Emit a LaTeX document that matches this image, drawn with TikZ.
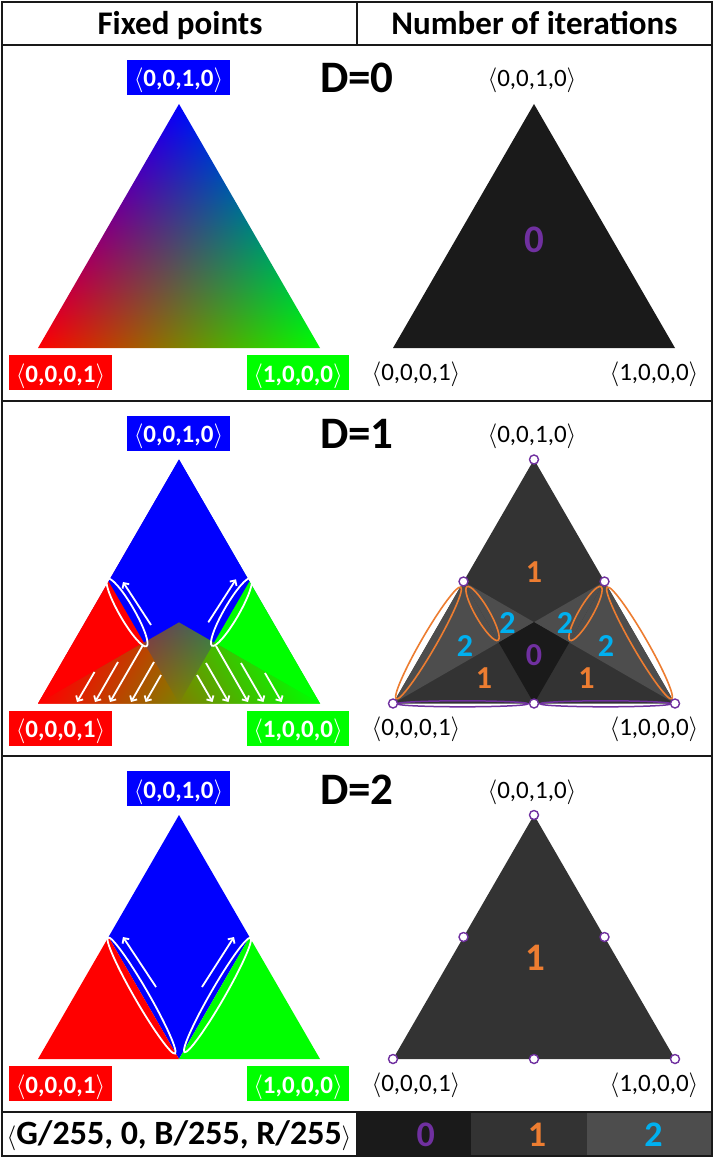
\documentclass[tikz,border=0pt]{standalone}
\usepackage{fontspec}
\setmainfont{Carlito}
\usetikzlibrary{arrows.meta}
\definecolor{pur}{RGB}{112,48,160}
\definecolor{org}{RGB}{237,125,49}
\definecolor{cyn}{RGB}{0,176,240}
\definecolor{gz}{RGB}{26,26,26}
\definecolor{go}{RGB}{51,51,51}
\definecolor{gt}{RGB}{77,77,77}
\definecolor{pblue}{RGB}{0,0,255}
\definecolor{pred}{RGB}{255,0,0}
\definecolor{pgreen}{RGB}{0,255,0}
\definecolor{frm}{RGB}{25,25,25}
\pgfdeclarefunctionalshading{bary}{\pgfpoint{0bp}{0bp}}{\pgfpoint{100bp}{100bp}}{}{%
25 sub 50 div exch 25 sub 50 div exch 2 copy 2 div sub dup 2 index add 1 exch sub 4 1 roll exch 3 -1 roll pop}
\pgfdeclarefunctionalshading{projL}{\pgfpoint{0bp}{0bp}}{\pgfpoint{100bp}{100bp}}{}{%
25 sub 50 div exch 25 sub 50 div exch 2 div sub dup 1 exch sub exch 0}
\pgfdeclarefunctionalshading{projR}{\pgfpoint{0bp}{0bp}}{\pgfpoint{100bp}{100bp}}{}{%
25 sub 50 div exch 25 sub 50 div exch 2 div add dup 1 exch sub exch 0}
\newcommand{\tupl}[1]{$\langle$#1$\rangle$}
\newcommand{\tricoords}{%
 \coordinate (A) at (179,104);
 \coordinate (L) at (38,348);
 \coordinate (R) at (320,348);
 \coordinate (ML) at (108.5,226);
 \coordinate (MR) at (249.5,226);
 \coordinate (MB) at (179,348);
 \coordinate (G) at (179,266.67);
 \coordinate (P1) at (143.75,287);
 \coordinate (P2) at (214.25,287);}
\newcommand{\panellabels}[1]{%
 \node[lbl, fill=pblue, minimum width=103pt] (top#1) at (178.5,77.5) {\tupl{0,0,1,0}};
 \node[lbl, fill=pred, minimum width=103pt] (lft#1) at (60.5,372.5) {\tupl{0,0,0,1}};
 \node[lbl, fill=pgreen, minimum width=102pt] (rgt#1) at (298,372.5) {\tupl{1,0,0,0}};
 \node[dlab, anchor=base] (dd#1) at (357,93) {D=#1};
 \node[ptxt, anchor=base] (itop#1) at (532,87) {\tupl{0,0,1,0}};
 \node[ptxt, anchor=base] (ilft#1) at (416,380) {\tupl{0,0,0,1}};
 \node[ptxt, anchor=base] (irgt#1) at (654,380) {\tupl{1,0,0,0}};}
\newcommand{\vmarks}[1]{%
 \foreach \p in {A,ML,MR,L,MB,R} {\node[vdot] (c#1\p) at (\p) {};}}
\begin{document}
\begin{tikzpicture}[x=1pt,y=-1pt,
 lbl/.style={text=white, font=\bfseries\fontsize{25}{30}\selectfont, inner sep=0pt, minimum height=35pt, text height=19pt, text depth=0pt},
 ptxt/.style={font=\fontsize{25}{30}\selectfont, inner sep=0pt},
 dlab/.style={font=\bfseries\fontsize{45}{50}\selectfont, inner sep=0pt},
 hdr/.style={font=\bfseries\fontsize{33}{40}\selectfont, inner sep=0pt},
 num/.style={font=\bfseries\fontsize{32}{36}\selectfont, inner sep=0pt, text height=20pt, text depth=0pt},
 bignum/.style={font=\bfseries\fontsize{39}{42}\selectfont, inner sep=0pt, text height=25pt, text depth=0pt},
 lnum/.style={font=\bfseries\fontsize{36}{40}\selectfont, inner sep=0pt, text height=23pt, text depth=0pt},
 wel/.style={draw=white, line width=1.8pt},
 oel/.style={draw=org, line width=1.6pt},
 pel/.style={draw=pur, line width=1.5pt},
 warr/.style={draw=white, line width=1.8pt, -{Straight Barb[length=4pt,width=8pt]}},
 vdot/.style={circle, draw=pur, fill=white, line width=1.4pt, minimum size=9pt, inner sep=0pt},
 frl/.style={draw=frm, line width=2pt}]
\useasboundingbox (0,0) rectangle (714,1158);
\fill[white] (0,0) rectangle (714,1158);
% header
\node[hdr, anchor=base] (h1) at (180,35) {Fixed points};
\node[hdr, anchor=base] (h2) at (534.5,35) {Number of iterations};
% labels of the three panels
\begin{scope}[shift={(0,0)}] \panellabels{0} \end{scope}
\begin{scope}[shift={(0,355.5)}] \panellabels{1} \end{scope}
\begin{scope}[shift={(0,711)}] \panellabels{2} \end{scope}
% ---------- D=0
\begin{scope}[shift={(0,0)}]
 \tricoords
 \shade[shading=bary] (A)--(L)--(R)--cycle;
\end{scope}
\begin{scope}[shift={(355,0)}]
 \tricoords
 \fill[gz] (A)--(L)--(R)--cycle;
 \node[bignum, text=pur] (n0) at (179,240) {0};
\end{scope}
% ---------- D=1
\begin{scope}[shift={(0,355.5)}]
 \tricoords
 \shade[shading=bary] (A)--(L)--(R)--cycle;
 \fill[pblue] (A)--(ML)--(P1)--(G)--(P2)--(MR)--cycle;
 \fill[pred] (L)--(ML)--(P1)--cycle;
 \fill[pgreen] (R)--(MR)--(P2)--cycle;
 \begin{scope} \clip (L)--(P1)--(MB)--cycle; \shade[shading=projL] (A)--(L)--(R)--cycle; \end{scope}
 \begin{scope} \clip (R)--(P2)--(MB)--cycle; \shade[shading=projR] (A)--(L)--(R)--cycle; \end{scope}
 \draw[wel, shift={(127,257)}, rotate=-60] (0,0) ellipse [x radius=39, y radius=7.5];
 \draw[wel, shift={(231.5,256.5)}, rotate=60] (0,0) ellipse [x radius=39, y radius=7.5];
 \coordinate (u1t) at (151,269.5); \coordinate (u1h) at (123,226.5);
 \coordinate (u2t) at (208.3,266.8); \coordinate (u2h) at (236,223.8);
 \draw[warr] (u1t) -- (u1h);
 \draw[warr] (u2t) -- (u2h);
 \foreach \i/\tx/\ty/\hx in {1/94.5/316.5/77, 2/118/306.5/95, 3/143/289.5/110, 4/154/306.5/131, 5/161/319.5/145.5,
   6/197/319.5/212.6, 7/206/307.5/228.5, 8/216/290.5/248, 9/241/307.5/263.5, 10/265/317.5/281.7}{
   \coordinate (bt\i) at (\tx,\ty); \coordinate (bh\i) at (\hx,346.5);
   \draw[warr] (bt\i) -- (bh\i);}
\end{scope}
\begin{scope}[shift={(355,355.5)}]
 \tricoords
 \fill[go] (A)--(L)--(R)--cycle;
 \fill[gt] (ML)--(G)--(P1)--cycle;
 \fill[gt] (L)--(ML)--(P1)--cycle;
 \fill[gt] (MR)--(G)--(P2)--cycle;
 \fill[gt] (R)--(MR)--(P2)--cycle;
 \fill[gz] (P1)--(G)--(P2)--(MB)--cycle;
 \draw[oel, shift={(73.5,287.5)}, rotate=60] (0,0) ellipse [x radius=64.5, y radius=7.5];
 \draw[oel, shift={(127.5,258)}, rotate=-60] (0,0) ellipse [x radius=31, y radius=7];
 \draw[oel, shift={(284.5,287.5)}, rotate=-60] (0,0) ellipse [x radius=64.5, y radius=7.5];
 \draw[oel, shift={(230.5,258)}, rotate=60] (0,0) ellipse [x radius=31, y radius=7];
 \draw[pel] (107.5,348.3) ellipse [x radius=65.5, y radius=3];
 \draw[pel] (250.5,348.3) ellipse [x radius=65.5, y radius=3];
 \vmarks{1}
 \node[num, text=org] (m1) at (179,216.5) {1};
 \node[num, text=cyn] (m2) at (152.5,267.5) {2};
 \node[num, text=cyn] (m3) at (110,290.5) {2};
 \node[num, text=org] (m4) at (129,323) {1};
 \node[num, text=pur] (m5) at (179,299.5) {0};
 \node[num, text=cyn] (m6) at (210,267.5) {2};
 \node[num, text=cyn] (m7) at (251,290.5) {2};
 \node[num, text=org] (m8) at (231.5,323) {1};
\end{scope}
% ---------- D=2
\begin{scope}[shift={(0,711)}]
 \tricoords
 \fill[pblue] (A)--(ML)--(MB)--(MR)--cycle;
 \fill[pred] (L)--(ML)--(MB)--cycle;
 \fill[pgreen] (R)--(MR)--(MB)--cycle;
 \draw[wel, shift={(141.5,284.5)}, rotate=-60] (0,0) ellipse [x radius=67, y radius=7];
 \draw[wel, shift={(217.5,284)}, rotate=60] (0,0) ellipse [x radius=66, y radius=7];
 \coordinate (v1t) at (156,276); \coordinate (v1h) at (123,226);
 \coordinate (v2t) at (202,276); \coordinate (v2h) at (234,226);
 \draw[warr] (v1t) -- (v1h);
 \draw[warr] (v2t) -- (v2h);
\end{scope}
\begin{scope}[shift={(355,711)}]
 \tricoords
 \fill[go] (A)--(L)--(R)--cycle;
 \vmarks{2}
 \node[bignum, text=org] (n2) at (180,247.3) {1};
\end{scope}
% ---------- legend
\fill[gz] (356.5,1112) rectangle (471,1156);
\fill[go] (471,1112) rectangle (587,1156);
\fill[gt] (587,1112) rectangle (712,1156);
\node[hdr, font=\bfseries\fontsize{34}{40}\selectfont, anchor=base] (leg) at (179,1144) {\tupl{G/255, 0, B/255, R/255}};
\node[lnum, text=pur] (l0) at (425.8,1134.5) {0};
\node[lnum, text=org] (l1) at (537,1134.5) {1};
\node[lnum, text=cyn] (l2) at (653.5,1134.5) {2};
% ---------- frame
\draw[frl] (2,2) rectangle (712,1156);
\draw[frl] (2,45) -- (712,45);
\draw[frl] (357,2) -- (357,45);
\draw[frl] (2,400.5) -- (712,400.5);
\draw[frl] (2,756) -- (712,756);
\draw[frl] (2,1112) -- (712,1112);
\draw[frl] (356.5,1112) -- (356.5,1156);
\end{tikzpicture}
\end{document}
